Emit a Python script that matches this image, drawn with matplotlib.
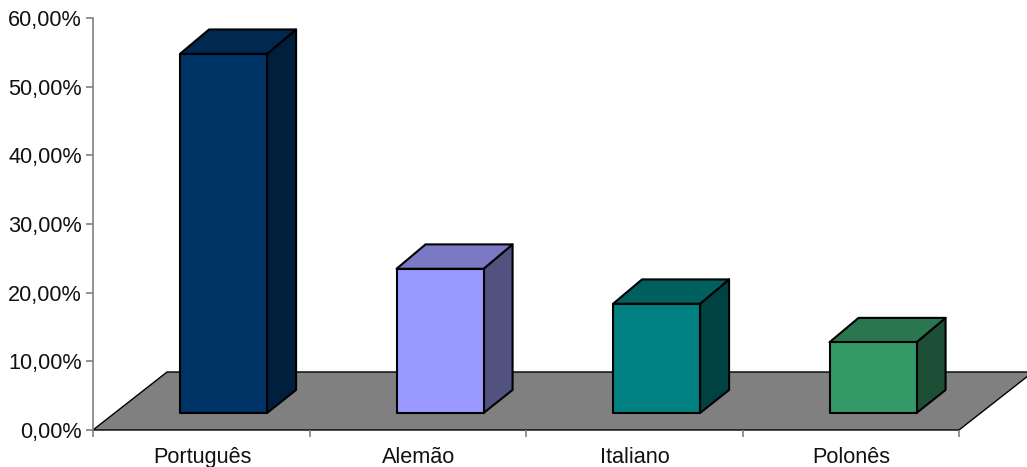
#!/usr/bin/env python3
"""
3D-style column chart of language shares, drawn from plain polygons.
"""

import matplotlib
matplotlib.use('Agg')  # Non-interactive backend
import matplotlib.pyplot as plt
from matplotlib.patches import Polygon

plt.rcParams['font.family'] = ['Liberation Sans', 'DejaVu Sans']

categories = ['Português', 'Alemão', 'Italiano', 'Polonês']
values = [52.3, 21.0, 15.9, 10.3]
tick_values = [0, 10, 20, 30, 40, 50, 60]

front_colors = ['#003366', '#9999FF', '#008080', '#339966']
top_colors = ['#002850', '#7A7AC4', '#006060', '#29764F']
side_colors = ['#001F3D', '#525280', '#004242', '#1C4F35']

W, H = 1027, 467
AX_LEFT, AX_RIGHT, AX_TOP, AX_BOTTOM = 93, 959, 18, 430

# depth of the floor and of the columns, in data units
FLOOR_DX, FLOOR_DY = 0.342, 8.45
BAR_DX, BAR_DY = 0.134, 3.55
BAR_BASE = 2.48
BAR_WIDTH = 0.402
BAR_OFFSET = 0.402


def draw_bar(ax, x0, value, front, top, side):
    x1 = x0 + BAR_WIDTH
    y0 = BAR_BASE
    y1 = BAR_BASE + value
    dx, dy = BAR_DX, BAR_DY
    style = dict(edgecolor='black', linewidth=1.5, joinstyle='round', clip_on=False)
    ax.add_patch(Polygon([(x1, y0), (x1 + dx, y0 + 3.35), (x1 + dx, y1 + dy), (x1, y1)],
                         facecolor=side, zorder=3, **style))
    ax.add_patch(Polygon([(x0, y1), (x1, y1), (x1 + dx, y1 + dy), (x0 + dx, y1 + dy)],
                         facecolor=top, zorder=3, **style))
    ax.add_patch(Polygon([(x0, y0), (x1, y0), (x1, y1), (x0, y1)],
                         facecolor=front, zorder=4, **style))


fig = plt.figure(figsize=(W / 100, H / 100), dpi=100)
ax = fig.add_axes([AX_LEFT / W, 1 - AX_BOTTOM / H, (AX_RIGHT - AX_LEFT) / W, (AX_BOTTOM - AX_TOP) / H])
ax.set_xlim(0, len(categories))
ax.set_ylim(0, 60)
ax.patch.set_visible(False)

# Floor
n = len(categories)
ax.add_patch(Polygon([(0, 0), (n, 0), (n + FLOOR_DX, FLOOR_DY), (FLOOR_DX, FLOOR_DY)],
                     facecolor='#808080', edgecolor='black', linewidth=1.0,
                     clip_on=False, zorder=1))

# Columns
for i, v in enumerate(values):
    draw_bar(ax, i + BAR_OFFSET, v, front_colors[i], top_colors[i], side_colors[i])

# Axes
for name in ['top', 'right', 'bottom']:
    ax.spines[name].set_visible(False)
ax.spines['left'].set_color('#808080')
ax.spines['left'].set_linewidth(1.2)

ax.set_yticks(tick_values)
ax.set_yticklabels([f'{t:.2f}%'.replace('.', ',') for t in tick_values], fontsize=15.6, color='#111111')
ax.tick_params(axis='y', length=5, width=1.2, color='#808080', pad=3)

# Category separators sit on the tick marks, names between them
ax.set_xticks(range(n + 1))
ax.set_xticklabels([])
ax.tick_params(axis='x', length=5, width=1.2, color='#808080')
for i, name in enumerate(categories):
    ax.annotate(name, xy=(i + 0.5, 0), xytext=(1, -33), xycoords='data', textcoords='offset pixels',
                ha='center', va='baseline', fontsize=15.6, color='#111111', annotation_clip=False)

fig.savefig('out.png', dpi=100)
plt.close(fig)
